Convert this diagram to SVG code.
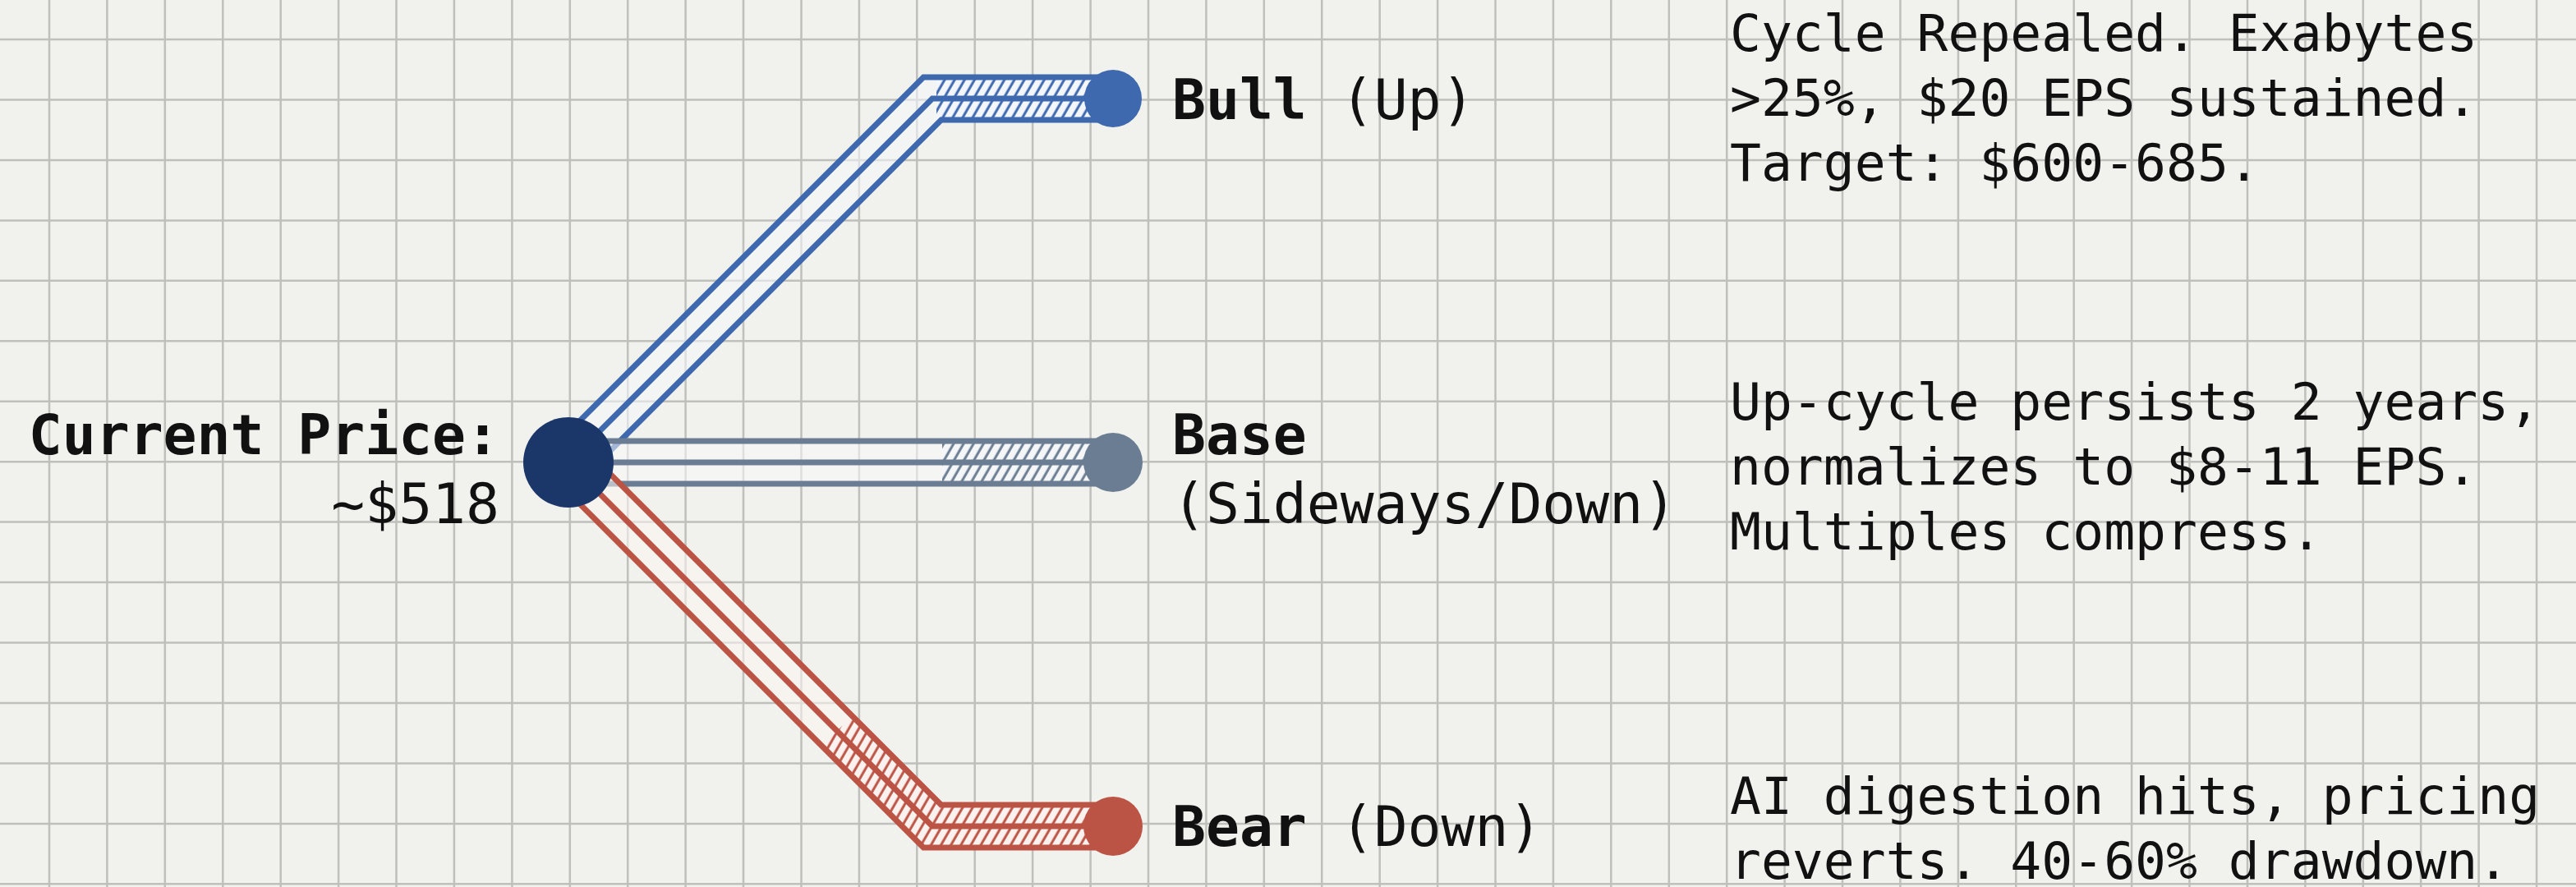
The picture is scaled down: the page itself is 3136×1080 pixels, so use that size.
<svg xmlns="http://www.w3.org/2000/svg" width="3136" height="1080" viewBox="0 0 3136 1080">
  <style>
    .grid { stroke: #bfbfbc; stroke-width: 2.5; fill: none; }
    .lbl { font-family: "DejaVu Sans Mono", "Liberation Mono", monospace; font-size: 68px; fill: #111; }
    .desc { font-family: "DejaVu Sans Mono", "Liberation Mono", monospace; font-size: 63px; fill: #111; }
    .b { font-weight: bold; }
    .ln { fill: none; stroke-width: 7; stroke-linejoin: miter; }
    .tint { fill: none; stroke-opacity: 0.55; stroke-width: 50; }
    .hatch { fill: none; stroke-width: 50; stroke-linejoin: miter; }
    .bull { stroke: #3e69ae; }
    .base { stroke: #6a7d92; }
    .bear { stroke: #bb5444; }
  </style>
  <defs>
    <pattern id="hatch-bull" patternUnits="userSpaceOnUse" width="10.5" height="12" patternTransform="rotate(30)">
      <rect width="10.5" height="12" fill="#f3f6fb"/>
      <line x1="5" y1="0" x2="5" y2="12" stroke="#3e69ae" stroke-width="3"/>
    </pattern>
    <pattern id="hatch-base" patternUnits="userSpaceOnUse" width="10.5" height="12" patternTransform="rotate(30)">
      <rect width="10.5" height="12" fill="#f5f6f7"/>
      <line x1="5" y1="0" x2="5" y2="12" stroke="#6a7d92" stroke-width="3"/>
    </pattern>
    <pattern id="hatch-bear" patternUnits="userSpaceOnUse" width="10.5" height="12" patternTransform="rotate(30)">
      <rect width="10.5" height="12" fill="#fbf1ee"/>
      <line x1="5" y1="0" x2="5" y2="12" stroke="#bb5444" stroke-width="3"/>
    </pattern>
  </defs>

  <rect width="3136" height="1080" fill="#f1f1ed"/>

  <g id="grid">
    <path class="grid" d="M60 0V1080M130.4 0V1080M200.8 0V1080M271.3 0V1080M341.7 0V1080M412.1 0V1080M482.5 0V1080M552.9 0V1080M623.4 0V1080M693.8 0V1080M764.2 0V1080M834.6 0V1080M905 0V1080M975.5 0V1080M1045.9 0V1080M1116.3 0V1080M1186.7 0V1080M1257.1 0V1080M1327.6 0V1080M1398 0V1080M1468.4 0V1080M1538.8 0V1080M1609.2 0V1080M1679.7 0V1080M1750.1 0V1080M1820.5 0V1080M1890.9 0V1080M1961.3 0V1080M2031.8 0V1080M2102.2 0V1080M2172.6 0V1080M2243 0V1080M2313.4 0V1080M2383.9 0V1080M2454.3 0V1080M2524.7 0V1080M2595.1 0V1080M2665.5 0V1080M2736 0V1080M2806.4 0V1080M2876.8 0V1080M2947.2 0V1080M3017.6 0V1080M3088.1 0V1080"/>
    <path class="grid" d="M0 48H3136M0 121.5H3136M0 194.9H3136M0 268.4H3136M0 341.8H3136M0 415.3H3136M0 488.7H3136M0 562.2H3136M0 635.6H3136M0 709.1H3136M0 782.5H3136M0 856H3136M0 929.4H3136M0 1002.9H3136M0 1076.3H3136"/>
  </g>

  <g id="connectors">
    <g id="edge-current-bull">
      <path class="tint" stroke="#f4f7fc" d="M692 563L1135 120H1330"/>
      <path class="hatch" stroke="url(#hatch-bull)" d="M1140 120H1330"/>
      <path class="ln bull" d="M673.6 544.6L1124.2 94H1355"/>
      <path class="ln bull" d="M692 563L1135 120H1355"/>
      <path class="ln bull" d="M710.4 581.4L1145.8 146H1355"/>
    </g>
    <g id="edge-current-base">
      <path class="tint" stroke="#f7f8f9" d="M692 563H1330"/>
      <path class="hatch" stroke="url(#hatch-base)" d="M1147 563H1330"/>
      <path class="ln base" d="M692 537H1355"/>
      <path class="ln base" d="M692 563H1355"/>
      <path class="ln base" d="M692 589H1355"/>
    </g>
    <g id="edge-current-bear">
      <path class="tint" stroke="#fbf5f3" d="M692 563L1135 1006H1330"/>
      <path class="hatch" stroke="url(#hatch-bear)" d="M1019 890L1135 1006H1330"/>
      <path class="ln bear" d="M710.4 544.6L1145.8 980H1355"/>
      <path class="ln bear" d="M692 563L1135 1006H1355"/>
      <path class="ln bear" d="M673.6 581.4L1124.2 1032H1355"/>
    </g>
  </g>

  <g id="node-current">
    <circle cx="692" cy="563" r="55" fill="#1b3769"/>
    <text class="lbl b" x="608" y="553" text-anchor="end">Current Price:</text>
    <text class="lbl" x="608" y="637" text-anchor="end">~$518</text>
  </g>

  <g id="node-bull">
    <circle cx="1355" cy="120" r="35" fill="#3e69ae"/>
    <text class="lbl" x="1427" y="145"><tspan class="b">Bull</tspan> (Up)</text>
    <text class="desc" x="2106">
      <tspan x="2106" y="62">Cycle Repealed. Exabytes</tspan>
      <tspan x="2106" y="141">&gt;25%, $20 EPS sustained.</tspan>
      <tspan x="2106" y="220">Target: $600-685.</tspan>
    </text>
  </g>

  <g id="node-base">
    <circle cx="1355" cy="563" r="36" fill="#6a7d92"/>
    <text class="lbl b" x="1427" y="553">Base</text>
    <text class="lbl" x="1427" y="637">(Sideways/Down)</text>
    <text class="desc" x="2106">
      <tspan x="2106" y="511">Up-cycle persists 2 years,</tspan>
      <tspan x="2106" y="590">normalizes to $8-11 EPS.</tspan>
      <tspan x="2106" y="669">Multiples compress.</tspan>
    </text>
  </g>

  <g id="node-bear">
    <circle cx="1355" cy="1006" r="36" fill="#bb5444"/>
    <text class="lbl" x="1427" y="1030"><tspan class="b">Bear</tspan> (Down)</text>
    <text class="desc" x="2106">
      <tspan x="2106" y="991">AI digestion hits, pricing</tspan>
      <tspan x="2106" y="1070">reverts. 40-60% drawdown.</tspan>
    </text>
  </g>
</svg>
